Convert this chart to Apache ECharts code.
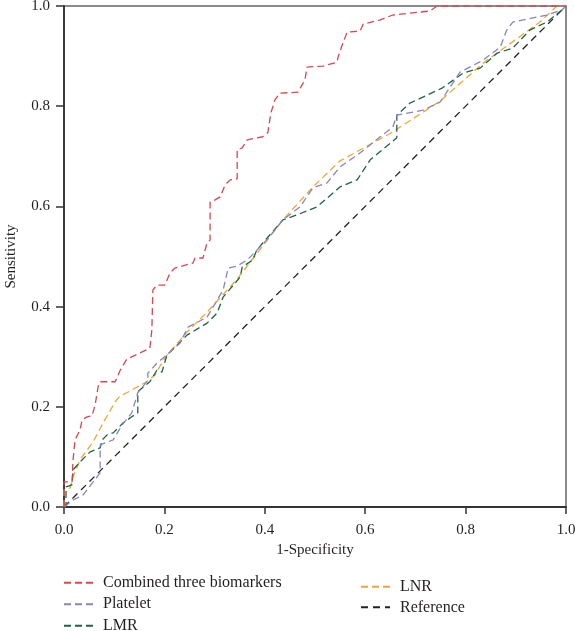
<!DOCTYPE html>
<html>
<head>
<meta charset="utf-8">
<script src="https://cdn.jsdelivr.net/npm/echarts@6/dist/echarts.min.js"></script>
<style>
html,body{margin:0;padding:0;background:#fff;}
#chart{width:575px;height:631px;}
</style>
</head>
<body>
<div id="chart"></div>
<script>
// Series names
const seriesNames = ['Combined three biomarkers', 'Platelet', 'LMR', 'LNR', 'Reference'];
// Tick values
const tickValues = [0, 0.2, 0.4, 0.6, 0.8, 1.0];

// ROC points [1-specificity, sensitivity]
const combined = [[0,0],[0,0.05],[0.016,0.05],[0.018,0.094],[0.022,0.134],[0.032,0.154],[0.036,0.174],[0.046,0.18],[0.056,0.182],[0.062,0.204],[0.068,0.24],[0.072,0.25],[0.102,0.25],[0.112,0.273],[0.125,0.295],[0.171,0.317],[0.175,0.353],[0.177,0.433],[0.185,0.443],[0.201,0.443],[0.211,0.467],[0.221,0.477],[0.257,0.487],[0.261,0.497],[0.277,0.497],[0.281,0.513],[0.285,0.527],[0.291,0.533],[0.291,0.609],[0.301,0.613],[0.311,0.619],[0.321,0.643],[0.331,0.653],[0.345,0.655],[0.345,0.713],[0.355,0.717],[0.365,0.733],[0.396,0.739],[0.406,0.747],[0.412,0.786],[0.42,0.812],[0.43,0.826],[0.466,0.828],[0.474,0.842],[0.48,0.852],[0.484,0.878],[0.516,0.88],[0.544,0.888],[0.546,0.898],[0.552,0.916],[0.564,0.948],[0.59,0.95],[0.596,0.964],[0.629,0.972],[0.655,0.982],[0.729,0.99],[0.743,1.0],[1,1]];
const platelet = [[0,0],[0.018,0.014],[0.038,0.024],[0.058,0.05],[0.072,0.068],[0.072,0.124],[0.098,0.134],[0.116,0.164],[0.135,0.188],[0.147,0.228],[0.167,0.253],[0.167,0.267],[0.185,0.287],[0.197,0.297],[0.231,0.327],[0.247,0.359],[0.285,0.379],[0.317,0.433],[0.327,0.477],[0.345,0.481],[0.365,0.493],[0.404,0.533],[0.436,0.573],[0.47,0.599],[0.496,0.637],[0.524,0.647],[0.55,0.679],[0.59,0.707],[0.635,0.743],[0.655,0.758],[0.663,0.782],[0.715,0.792],[0.749,0.808],[0.769,0.838],[0.789,0.868],[0.835,0.892],[0.869,0.918],[0.882,0.952],[0.894,0.968],[0.962,0.982],[0.992,0.992],[1,1]];
const lmr = [[0,0],[0.004,0],[0.004,0.04],[0.016,0.044],[0.018,0.074],[0.032,0.09],[0.052,0.11],[0.072,0.118],[0.076,0.134],[0.086,0.144],[0.098,0.148],[0.118,0.168],[0.135,0.18],[0.147,0.188],[0.147,0.23],[0.171,0.25],[0.185,0.273],[0.195,0.269],[0.205,0.303],[0.245,0.343],[0.285,0.367],[0.305,0.387],[0.317,0.419],[0.351,0.459],[0.355,0.479],[0.376,0.493],[0.384,0.513],[0.436,0.573],[0.464,0.583],[0.504,0.599],[0.55,0.639],[0.584,0.653],[0.61,0.693],[0.663,0.737],[0.663,0.782],[0.689,0.806],[0.753,0.836],[0.795,0.866],[0.829,0.876],[0.863,0.906],[0.894,0.916],[0.928,0.952],[0.962,0.968],[0.992,0.992],[1,1]];
const lnr = [[0,0],[0,0.034],[0.012,0.038],[0.018,0.06],[0.032,0.094],[0.036,0.1],[0.058,0.13],[0.078,0.168],[0.102,0.21],[0.112,0.222],[0.125,0.228],[0.165,0.25],[0.181,0.263],[0.191,0.281],[0.205,0.303],[0.245,0.349],[0.285,0.389],[0.345,0.455],[0.371,0.489],[0.436,0.573],[0.496,0.639],[0.55,0.691],[0.649,0.745],[0.749,0.81],[0.835,0.886],[0.948,0.968],[0.982,1.0],[1,1]];
const reference = [[0,0],[1,1]];

const colors = ['#d9474b', '#8585c4', '#1e6444', '#f0a535', '#222222'];
const allData = [combined, platelet, lmr, lnr, reference];

const FONT = 'Liberation Serif';
const chart = echarts.init(document.getElementById('chart'), null, {renderer: 'canvas'});

const series = allData.map((d, i) => ({
  name: seriesNames[i],
  type: 'line',
  data: d,
  symbol: 'none',
  showSymbol: false,
  animation: false,
  z: i === 4 ? 1 : 5 - i,
  lineStyle: {color: colors[i], width: 1.3, type: i === 4 ? [7, 5] : [7, 4]},
  itemStyle: {color: colors[i]}
}));

const legendCommon = {
  orient: 'vertical',
  padding: 0,
  height: 90,
  itemWidth: 29,
  itemHeight: 16,
  itemStyle: {opacity: 0},
  textStyle: {fontFamily: FONT, fontSize: 16, color: '#231f20', lineHeight: 16, padding: [0, 0, 0, 5]}
};

chart.setOption({
  animation: false,
  backgroundColor: '#fff',
  grid: {left: 64, right: 9, top: 6, bottom: 124, show: true, borderColor: '#666', borderWidth: 1.5, containLabel: false, outerBoundsMode: 'none'},
  legend: [
    Object.assign({}, legendCommon, {left: 63, top: 574.7, itemGap: 5.5, data: seriesNames.slice(0, 3)}),
    Object.assign({}, legendCommon, {left: 360, top: 578.7, itemGap: 4.6, data: seriesNames.slice(3)})
  ],
  xAxis: {
    type: 'value', min: tickValues[0], max: tickValues[tickValues.length - 1], interval: 0.2,
    name: '1-Specificity', nameLocation: 'middle', nameGap: 36,
    nameTextStyle: {fontFamily: FONT, fontSize: 15, color: '#231f20'},
    axisLine: {show: true, lineStyle: {color: '#333', width: 1.8}},
    axisTick: {show: true, length: 7, lineStyle: {color: '#333', width: 1.5}},
    axisLabel: {fontFamily: FONT, fontSize: 15, color: '#231f20', margin: 16, formatter: v => v.toFixed(1)},
    splitLine: {show: false}
  },
  yAxis: {
    type: 'value', min: tickValues[0], max: tickValues[tickValues.length - 1], interval: 0.2,
    name: 'Sensitivity', nameLocation: 'middle', nameGap: 45,
    nameTextStyle: {fontFamily: FONT, fontSize: 15, color: '#231f20'},
    axisLine: {show: true, lineStyle: {color: '#333', width: 1.8}},
    axisTick: {show: true, length: 8, lineStyle: {color: '#333', width: 1.5}},
    axisLabel: {fontFamily: FONT, fontSize: 15, color: '#231f20', margin: 14, formatter: v => v.toFixed(1)},
    splitLine: {show: false}
  },
  series: series
});
</script>
</body>
</html>
